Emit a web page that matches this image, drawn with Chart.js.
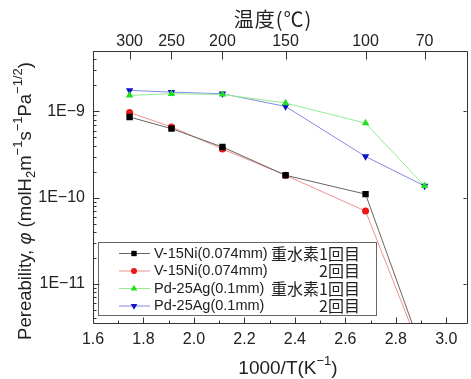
<!DOCTYPE html>
<html>
<head>
<meta charset="utf-8">
<script src="https://cdn.jsdelivr.net/npm/chart.js@4/dist/chart.umd.min.js"></script>
<style>html,body{margin:0;padding:0;background:#fff}</style>
</head>
<body>
<canvas id="myChart" width="471" height="379"></canvas>
<script>
// measurement temperatures (top axis) and their 1000/T positions
var tempLabels = [300, 250, 200, 150, 100, 70];
var xVals = [1.745, 1.911, 2.113, 2.363, 2.680, 2.914];
// bottom axis labels and log axis labels
var xTickVals = [1.6, 1.8, 2.0, 2.2, 2.4, 2.6, 2.8, 3.0];
var yTickVals = [1e-9, 1e-10, 1e-11];
// permeability values
var v15ni1 = [8.6e-10, 6.3e-10, 3.87e-10, 1.82e-10, 1.1e-10, 1.4e-12];
var v15ni2 = [9.7e-10, 6.6e-10, 3.67e-10, 1.82e-10, 7.0e-11, 1.3e-12];
var pdag1 = [1.53e-9, 1.6e-9, 1.57e-9, 1.25e-9, 7.3e-10, 1.37e-10];
var pdag2 = [1.75e-9, 1.67e-9, 1.6e-9, 1.14e-9, 3.0e-10, 1.37e-10];
// legend text: name and run
var names = ['V-15Ni(0.074mm)', 'V-15Ni(0.074mm)', 'Pd-25Ag(0.1mm)', 'Pd-25Ag(0.1mm)'];
var runs = ['重水素1回目', '2回目', '重水素1回目', '2回目'];

var XMIN = 1.6, XMAX = 3.08, YMIN = 3.45e-12, YMAX = 5e-9;
var FONT = "'Liberation Sans', 'Noto Sans CJK JP', sans-serif";
Chart.defaults.font.family = FONT;
Chart.defaults.color = '#222';

function pts(arr) {
  return xVals.map(function (v, i) { return { x: v, y: arr[i] }; });
}

function series(label, arr, line, dot, style, rot, r) {
  return {
    label: label, data: pts(arr),
    borderColor: line, borderWidth: 1,
    pointBackgroundColor: dot, pointBorderColor: dot, pointBorderWidth: 0,
    pointStyle: style, pointRotation: rot, pointRadius: r,
    fill: false, tension: 0
  };
}

function drawMarker(ctx, style, rot, x, y, r) {
  ctx.beginPath();
  if (style === 'rect') {
    var s = r * Math.SQRT1_2;
    ctx.rect(x - s, y - s, 2 * s, 2 * s);
  } else if (style === 'circle') {
    ctx.arc(x, y, r, 0, Math.PI * 2);
  } else {
    var d = rot ? 1 : -1;
    ctx.moveTo(x, y + d * r);
    ctx.lineTo(x - r * 0.866, y - d * r * 0.5);
    ctx.lineTo(x + r * 0.866, y - d * r * 0.5);
    ctx.closePath();
  }
  ctx.fill();
}

// rich text: [text, kind] with kind '', 'i', 'sup', 'sub'
function drawRich(ctx, parts, size) {
  function f(k) {
    if (k === 'sup' || k === 'sub') return Math.round(size * 0.68) + 'px ' + FONT;
    if (k === 'i') return 'italic ' + size + 'px ' + FONT;
    return size + 'px ' + FONT;
  }
  var w = parts.map(function (p) { ctx.font = f(p[1]); return ctx.measureText(p[0]).width; });
  var x = -w.reduce(function (a, b) { return a + b; }, 0) / 2;
  ctx.textAlign = 'left';
  ctx.textBaseline = 'middle';
  parts.forEach(function (p, i) {
    ctx.font = f(p[1]);
    var dy = p[1] === 'sup' ? -size * 0.42 : (p[1] === 'sub' ? size * 0.3 : 0);
    ctx.fillText(p[0], x, dy);
    x += w[i];
  });
}

var decor = {
  id: 'decor',
  afterDatasetsDraw: function (chart) {
    var ctx = chart.ctx, a = chart.chartArea;
    var sx = chart.scales.x, sy = chart.scales.y, st = chart.scales.x2;
    ctx.save();
    ctx.strokeStyle = '#333';
    ctx.lineWidth = 1;
    var L = Math.round(a.left) + 0.5, T = Math.round(a.top) + 0.5;
    var R = Math.round(a.right) - 0.5, B = Math.round(a.bottom) - 0.5;
    ctx.beginPath();
    ctx.moveTo(L, T); ctx.lineTo(R + 1, T);
    ctx.moveTo(L, T); ctx.lineTo(L, B);
    ctx.moveTo(L, B); ctx.lineTo(R + 1, B);
    ctx.moveTo(R + 1, T); ctx.lineTo(R + 1, B);
    // bottom ticks every 0.1, inward
    for (var i = 16; i <= 30; i++) {
      var px = Math.round(sx.getPixelForValue(i / 10)) + 0.5;
      var len = i % 2 === 0 ? 6 : 3;
      ctx.moveTo(px, B); ctx.lineTo(px, B - len);
    }
    // top temperature ticks
    xVals.forEach(function (v) {
      var px = Math.round(st.getPixelForValue(v)) + 0.5;
      ctx.moveTo(px, T); ctx.lineTo(px, T + 8);
    });
    // log ticks left and right
    for (var d = -12; d <= -9; d++) {
      for (var m = 1; m <= 9; m++) {
        var v = m * Math.pow(10, d);
        if (v < YMIN || v > YMAX) continue;
        var py = Math.round(sy.getPixelForValue(v)) + 0.5;
        var ln = m === 1 ? 6 : 3;
        ctx.moveTo(L, py); ctx.lineTo(L + ln, py);
        if (m === 1) { ctx.moveTo(a.right, py); ctx.lineTo(a.right - 3, py); }
      }
    }
    ctx.stroke();

    // legend box
    ctx.strokeStyle = '#666';
    ctx.strokeRect(98.5, 242.5, 278, 73);
    chart.data.datasets.forEach(function (ds, k) {
      var yy = 253.5 + k * 17.5;
      ctx.strokeStyle = ds.borderColor;
      ctx.beginPath(); ctx.moveTo(119, yy); ctx.lineTo(150, yy); ctx.stroke();
      ctx.fillStyle = ds.pointBackgroundColor;
      drawMarker(ctx, ds.pointStyle, ds.pointRotation, 134, yy, ds.pointStyle === 'circle' ? 3 : 3.8);
      ctx.fillStyle = '#222';
      ctx.font = '14.5px ' + FONT;
      ctx.textBaseline = 'middle';
      ctx.textAlign = 'left';
      ctx.fillText(names[k], 154, yy);
      ctx.font = "16px 'Noto Sans CJK JP', sans-serif";
      ctx.textAlign = 'right';
      ctx.fillText(runs[k], 360, yy);
    });

    // axis titles
    ctx.fillStyle = '#222';
    ctx.save();
    ctx.translate(288, 369);
    drawRich(ctx, [['1000/T(K', ''], ['\u22121', 'sup'], [')', '']], 19);
    ctx.restore();
    ctx.save();
    ctx.translate(273, 19);
    ctx.font = "20px 'Noto Sans CJK JP', sans-serif";
    ctx.letterSpacing = '1px';
    ctx.textAlign = 'center';
    ctx.textBaseline = 'middle';
    ctx.fillText('温度(℃)', 0, 0);
    ctx.letterSpacing = '0px';
    ctx.restore();
    ctx.save();
    ctx.translate(26, 201);
    ctx.rotate(-Math.PI / 2);
    drawRich(ctx, [['Pereability, ', ''], ['\u03c6', 'i'], [' (molH', ''], ['2', 'sub'], ['m', ''],
      ['\u22121', 'sup'], ['s', ''], ['\u22121', 'sup'], ['Pa', ''], ['\u22121/2', 'sup'], [')', '']], 18.5);
    ctx.restore();
    ctx.restore();
  }
};

var ctx = document.getElementById('myChart');
var myChart = new Chart(ctx, {
  type: 'line',
  data: {
    datasets: [
      series('V-15Ni 1', v15ni1, '#666666', '#000000', 'rect', 0, 4.5),
      series('V-15Ni 2', v15ni2, '#f09090', '#e81818', 'circle', 0, 3.5),
      series('Pd-25Ag 1', pdag1, '#90ee90', '#22dd22', 'triangle', 0, 4.3),
      series('Pd-25Ag 2', pdag2, '#8888e8', '#1010c8', 'triangle', 180, 4.3)
    ]
  },
  options: {
    responsive: false,
    animation: false,
    devicePixelRatio: 1,
    layout: { padding: 0 },
    plugins: { legend: { display: false }, tooltip: { enabled: false } },
    scales: {
      x: {
        type: 'linear', position: 'bottom', min: XMIN, max: XMAX,
        grid: { display: false, drawTicks: false }, border: { display: false },
        afterBuildTicks: function (s) { s.ticks = xTickVals.map(function (v) { return { value: v }; }); },
        afterFit: function (s) { s.height = 55; },
        ticks: { autoSkip: false, maxRotation: 0, padding: 6, font: { size: 16 },
          callback: function (v) { return Number(v).toFixed(1); } }
      },
      x2: {
        type: 'linear', position: 'top', min: XMIN, max: XMAX,
        grid: { display: false, drawTicks: false }, border: { display: false },
        afterBuildTicks: function (s) { s.ticks = xVals.map(function (v) { return { value: v }; }); },
        afterFit: function (s) { s.height = 51; },
        ticks: { autoSkip: false, maxRotation: 0, padding: 0, font: { size: 16 },
          callback: function (v, i) { return String(tempLabels[i]); } }
      },
      y: {
        type: 'logarithmic', position: 'left', min: YMIN, max: YMAX,
        grid: { display: false, drawTicks: false }, border: { display: false },
        afterBuildTicks: function (s) { s.ticks = yTickVals.map(function (v) { return { value: v }; }); },
        afterFit: function (s) { s.width = 93; },
        ticks: { autoSkip: false, padding: 8, font: { size: 16 },
          callback: function (v) { return '1E\u2212' + Math.round(-Math.log10(v)); } }
      }
    }
  },
  plugins: [decor]
});
</script>
</body>
</html>
